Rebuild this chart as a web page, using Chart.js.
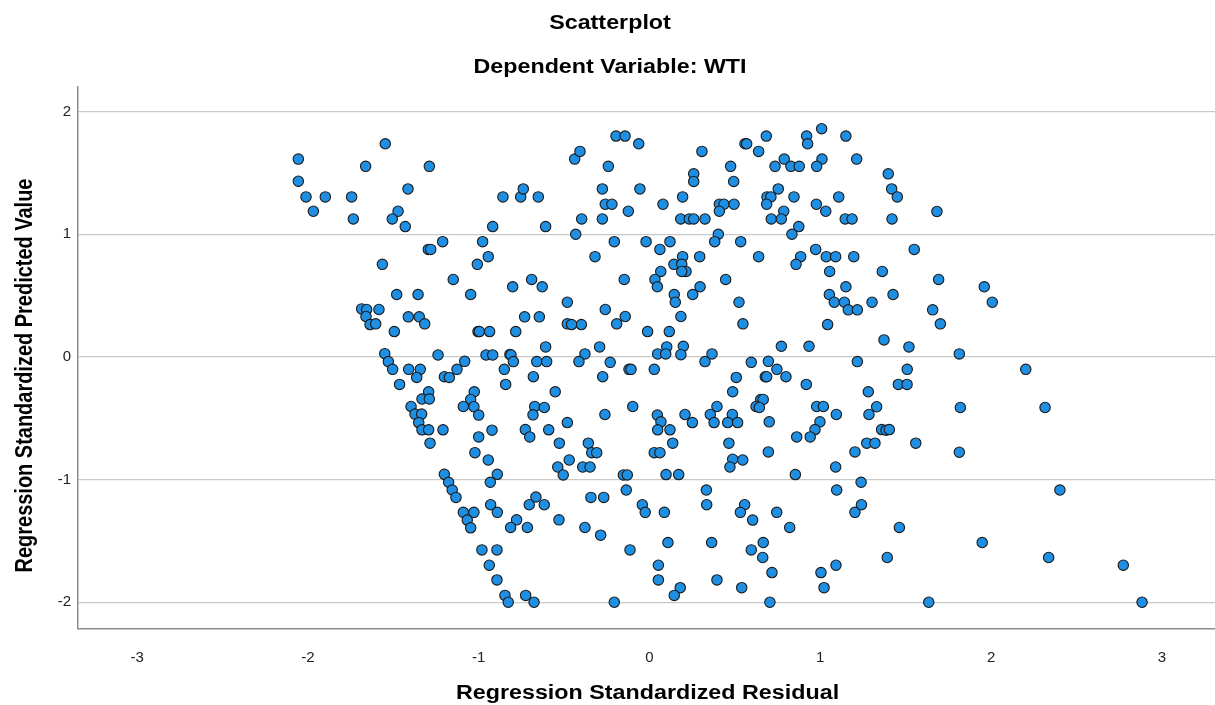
<!DOCTYPE html>
<html>
<head>
<meta charset="utf-8">
<script src="https://cdn.jsdelivr.net/npm/chart.js@4.4.1/dist/chart.umd.min.js"></script>
<style>
  html, body { margin: 0; padding: 0; background: #ffffff; overflow: hidden; }
  #chart { display: block; }
</style>
</head>
<body>
<canvas id="chart" width="1215" height="705" style="width:1215px;height:705px"></canvas>
<script>
// ---- Data ----
const residual = [
  // upper-left block
  -2.056,-1.547,-1.662,-1.289,-2.056,-2.011,-1.898,-1.744,-1.968,-1.414,
  -1.472,-1.506,-1.734,-1.430,-0.858,-0.754,-0.739,-0.651,-0.918,-0.608,
  -1.211,-1.295,-1.281,-0.977,-0.944,-1.008,-1.564,
  // upper-middle block
  -0.438,-0.407,-0.196,-0.143,-0.063,-0.241,-0.276,-0.056,-0.259,-0.220,
  -0.124,-0.397,-0.276,0.307,0.259,0.259,0.194,0.079,0.183,0.233,
  0.259,0.325,0.409,0.436,0.409,0.495,0.475,0.493,0.559,0.569,
  0.639,0.684,0.735,0.789,0.828,0.877,0.754,0.688,0.711,0.686,
  0.846,0.786,0.713,0.772,0.977,1.032,0.920,0.926,1.008,1.010,
  0.979,1.150,1.213,1.108,1.146,1.186,-0.432,-0.206,-0.020,0.120,
  0.061,-0.319,0.194,0.294,0.143,0.189,0.066,0.214,0.189,0.403,
  0.382,0.534,0.639,0.874,0.834,0.973,0.885,0.858,1.035,1.090,1.196,1.055,
  // upper-right block
  1.398,1.418,1.451,1.420,1.683,1.550,1.363,
  // middle-left block
  -1.149,-0.690,-0.628,-0.801,-1.047,-1.480,-1.355,-1.685,-1.656,-1.584,
  -1.660,-1.636,-1.603,-1.412,-1.348,-1.316,-1.494,-1.004,-0.996,-0.936,
  -0.783,-0.731,-0.645,-0.481,-0.481,-0.608,-1.550,-1.529,-1.504,-1.410,
  -1.342,-1.363,-1.463,-1.238,-1.082,-1.127,-1.201,-1.172,-0.957,-0.918,
  -0.817,-0.811,-0.797,-0.850,-0.842,-0.660,-0.602,-0.680,-0.552,-1.293,
  -1.332,-1.289,-1.396,-1.373,-1.334,-1.351,-1.332,-1.293,-1.209,-1.026,
  -1.047,-1.090,-1.028,-1.000,-1.000,-0.922,-0.672,-0.616,-0.682,-0.727,
  -0.701,-0.590,-0.481,-0.528,-1.285,
  // middle block
  -0.148,0.032,0.046,0.446,0.145,0.151,0.253,0.296,-0.259,-0.142,
  -0.192,-0.399,-0.456,0.184,-0.011,0.116,-0.292,-0.378,-0.413,-0.230,
  0.101,0.048,0.095,0.198,0.184,-0.120,-0.108,0.028,-0.274,0.325,
  0.366,0.524,0.547,0.596,0.696,0.746,0.799,0.678,0.686,0.508,
  0.487,0.772,0.934,0.918,1.150,1.053,1.082,1.141,1.164,1.217,
  1.043,1.217,0.651,0.666,0.624,0.643,0.979,1.018,1.094,0.998,
  0.969,0.941,0.862,-0.098,-0.261,0.046,0.067,0.048,0.120,0.208,
  0.251,0.356,0.395,0.378,0.485,0.458,0.516,0.701,-0.358,0.136,0.465,
  // middle-right block
  1.693,1.960,2.007,1.426,1.303,1.658,1.703,1.373,1.519,1.814,
  1.509,2.203,1.457,1.508,1.281,1.330,1.285,1.820,2.316,1.359,
  1.385,1.404,1.272,1.320,1.559,
  // lower-left block
  -1.022,-0.944,-0.470,-0.537,-0.505,-1.201,-1.176,-1.155,-1.133,-0.891,
  -0.932,-0.930,-0.891,-1.090,-1.028,-1.067,-1.047,-0.665,-0.704,-0.616,
  -0.778,-0.813,-0.715,-0.530,-0.981,-0.893,-0.938,-0.893,-0.846,-0.827,
  -0.725,-0.676,
  // lower-middle block
  -0.338,-0.309,0.028,0.061,-0.391,-0.348,-0.153,-0.130,0.097,0.171,
  0.487,0.546,0.471,0.696,0.854,1.090,1.203,1.096,1.203,-0.343,
  -0.268,-0.136,-0.042,-0.025,0.087,0.333,0.335,0.557,0.532,0.604,
  0.745,0.821,-0.378,-0.286,-0.114,0.108,0.364,0.596,0.666,0.663,
  0.052,0.052,0.180,0.145,0.395,0.540,0.717,1.004,1.092,1.022,
  -0.206,0.705,
  // lower-right block
  1.239,1.241,1.814,2.403,1.463,1.948,1.392,2.337,2.774,1.635,2.884
];

const predicted = [
  // upper-left block
  1.613,1.738,1.554,1.554,1.433,1.305,1.305,1.305,1.188,1.370,
  1.188,1.125,1.125,1.063,1.305,1.305,1.370,1.305,1.063,1.063,
  0.940,0.877,0.877,0.940,0.818,0.755,0.755,
  // upper-middle block
  1.613,1.676,1.801,1.801,1.738,1.554,1.370,1.370,1.245,1.245,
  1.188,1.125,1.125,1.676,1.493,1.431,1.305,1.245,1.125,1.125,
  1.125,1.125,1.245,1.245,1.188,1.245,1.554,1.431,1.738,1.738,
  1.676,1.801,1.554,1.613,1.554,1.554,1.370,1.305,1.305,1.245,
  1.305,1.188,1.125,1.125,1.245,1.188,1.801,1.738,1.861,1.613,
  1.554,1.801,1.613,1.305,1.125,1.125,1.000,0.940,0.940,0.940,
  0.877,0.818,0.818,0.818,0.755,0.755,0.697,0.697,0.697,1.000,
  0.940,0.940,0.818,1.063,1.000,0.877,0.818,0.755,0.818,0.818,0.818,0.697,
  // upper-right block
  1.493,1.370,1.305,1.125,1.186,0.877,0.697,
  // middle-left block
  0.632,0.632,0.572,0.572,0.509,0.509,0.509,0.392,0.387,0.387,
  0.330,0.264,0.270,0.327,0.327,0.270,0.207,0.207,0.207,0.207,
  0.207,0.327,0.327,0.446,0.270,0.082,0.027,-0.038,-0.101,-0.101,
  -0.101,-0.167,-0.224,0.016,-0.036,-0.101,-0.161,-0.167,0.016,0.016,
  0.021,0.016,-0.038,-0.101,-0.224,-0.038,-0.038,-0.161,-0.284,-0.284,
  -0.343,-0.343,-0.404,-0.466,-0.466,-0.535,-0.594,-0.594,-0.594,-0.284,
  -0.347,-0.404,-0.406,-0.474,-0.652,-0.597,-0.404,-0.412,-0.472,-0.592,
  -0.652,-0.594,-0.535,-0.703,-0.703,
  // middle block
  0.632,0.632,0.572,0.632,0.509,0.446,0.509,0.572,0.387,0.330,
  0.270,0.264,0.264,0.330,0.207,0.207,0.082,0.025,-0.038,-0.044,
  0.082,0.025,0.025,0.087,0.019,-0.101,-0.101,-0.101,-0.161,-0.038,
  0.025,0.446,0.270,-0.044,-0.036,-0.101,-0.161,-0.161,-0.161,-0.167,
  -0.284,0.087,0.087,-0.224,0.572,0.509,0.446,0.446,0.384,0.384,
  0.264,-0.038,-0.347,-0.347,-0.404,-0.412,-0.404,-0.404,-0.469,-0.529,
  -0.592,-0.652,-0.652,-0.404,-0.469,-0.474,-0.529,-0.594,-0.594,-0.469,
  -0.535,-0.469,-0.404,-0.535,-0.469,-0.535,-0.535,-0.529,-0.703,-0.703,-0.703,
  // middle-right block
  0.632,0.572,0.446,0.509,0.446,0.384,0.270,0.139,0.082,0.025,
  -0.101,-0.101,-0.224,-0.224,-0.284,-0.406,-0.469,-0.412,-0.412,-0.592,
  -0.597,-0.592,-0.703,-0.703,-0.703,
  // lower-left block
  -0.780,-0.840,-0.840,-0.897,-0.962,-0.957,-1.022,-1.085,-1.145,-0.957,
  -1.022,-1.205,-1.267,-1.267,-1.267,-1.330,-1.393,-1.142,-1.205,-1.205,
  -1.328,-1.390,-1.390,-1.328,-1.573,-1.573,-1.698,-1.818,-1.944,-2.000,
  -1.944,-2.000,
  // lower-middle block
  -0.780,-0.780,-0.780,-0.780,-0.897,-0.897,-0.962,-0.962,-0.959,-0.959,
  -0.834,-0.840,-0.897,-0.774,-0.959,-0.897,-0.774,-1.085,-1.267,-1.145,
  -1.145,-1.085,-1.205,-1.267,-1.267,-1.085,-1.205,-1.205,-1.267,-1.330,
  -1.267,-1.390,-1.390,-1.453,-1.573,-1.513,-1.513,-1.573,-1.513,-1.635,
  -1.698,-1.818,-1.881,-1.944,-1.818,-1.881,-1.758,-1.758,-1.698,-1.881,
  -2.000,-2.000,
  // lower-right block
  -1.022,-1.205,-0.777,-1.085,-1.390,-1.513,-1.635,-1.635,-1.698,-2.000,-2.000
];

const xTicks = [-3, -2, -1, 0, 1, 2, 3];
const yTicks = [-2, -1, 0, 1, 2];
const xRange = [-3.346, 3.311];
const yRange = [-2.218, 2.201];

const chartTitle = 'Scatterplot';
const chartSubtitle = 'Dependent Variable: WTI';
const xTitle = 'Regression Standardized Residual';
const yTitle = 'Regression Standardized Predicted Value';

// ---- Styles ----
const FONT = '"Liberation Sans", Arial, Helvetica, sans-serif';
const SQUASH = 0.857; // reference text is vertically compressed

const titlesPlugin = {
  id: 'spssTitles',
  afterDraw(chart) {
    const { ctx, chartArea } = chart;
    ctx.save();
    ctx.fillStyle = '#000000';
    ctx.font = 'bold 23.3px ' + FONT;
    ctx.textAlign = 'center';
    ctx.textBaseline = 'alphabetic';
    const drawH = (text, cx, by) => {
      ctx.save();
      ctx.translate(cx, by);
      ctx.scale(1, SQUASH);
      ctx.fillText(text, 0, 0);
      ctx.restore();
    };
    drawH(chartTitle, 610, 29.3);
    drawH(chartSubtitle, 610, 72.7);
    drawH(xTitle, (chartArea.left + chartArea.right) / 2 + 1, 698.5);
    ctx.save();
    ctx.translate(31.7, chartArea.bottom - 253.5);
    ctx.scale(1, SQUASH);
    ctx.rotate(-Math.PI / 2);
    ctx.fillText(yTitle, 0, 0);
    ctx.restore();
    ctx.restore();
  }
};

const points = residual.map((x, i) => ({ x: x, y: predicted[i] }));

new Chart(document.getElementById('chart'), {
  type: 'scatter',
  data: {
    datasets: [{
      data: points,
      pointRadius: 5.2,
      pointHoverRadius: 5.2,
      pointBorderWidth: 1.1,
      pointBackgroundColor: '#1e8fe3',
      pointBorderColor: '#1a1a1a',
      backgroundColor: '#1e8fe3',
      borderColor: '#1a1a1a'
    }]
  },
  options: {
    responsive: false,
    maintainAspectRatio: false,
    devicePixelRatio: 1,
    animation: false,
    events: [],
    layout: { autoPadding: false, padding: { top: 87, right: 0, bottom: 0, left: 0 } },
    plugins: {
      legend: { display: false },
      tooltip: { enabled: false },
      title: { display: false }
    },
    scales: {
      x: {
        type: 'linear',
        position: 'bottom',
        min: xRange[0],
        max: xRange[1],
        afterBuildTicks: (s) => { s.ticks = xTicks.map(v => ({ value: v })); },
        afterFit: (s) => { s.height = 76; s.paddingLeft = 0; s.paddingRight = 0; },
        grid: { display: false },
        border: { display: true, color: '#8c8c8c', width: 1.5 },
        ticks: {
          autoSkip: false,
          maxRotation: 0,
          padding: 12,
          color: '#222222',
          font: { family: FONT, size: 15 }
        }
      },
      y: {
        type: 'linear',
        position: 'left',
        min: yRange[0],
        max: yRange[1],
        afterBuildTicks: (s) => { s.ticks = yTicks.map(v => ({ value: v })); },
        afterFit: (s) => { s.width = 78; s.paddingTop = 0; s.paddingBottom = 0; },
        grid: { display: true, color: '#c9c9c9', lineWidth: 1.2, drawTicks: false },
        border: { display: true, color: '#8c8c8c', width: 1.5 },
        ticks: {
          padding: 7,
          color: '#222222',
          font: { family: FONT, size: 15 }
        }
      }
    }
  },
  plugins: [titlesPlugin]
});
</script>
</body>
</html>
